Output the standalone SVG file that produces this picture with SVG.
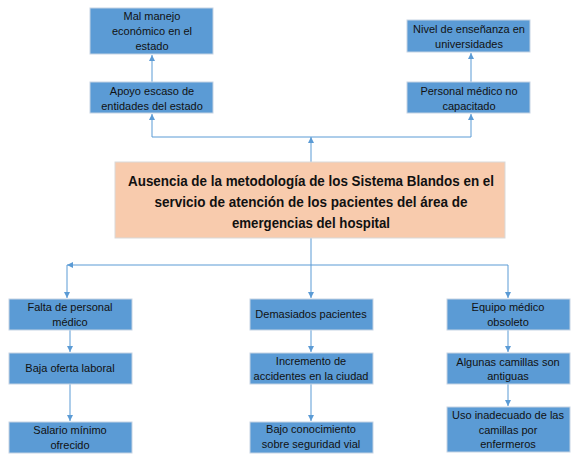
<svg xmlns="http://www.w3.org/2000/svg" width="587" height="463" viewBox="0 0 587 463">
<style>
.b{fill:#5B9BD5;stroke:#C5D3E3;stroke-width:1}
.c{fill:#F8CBAD;stroke:#D9D9D9;stroke-width:1}
.t{font-family:"Liberation Sans",Arial,sans-serif;font-size:11px;fill:#111;text-anchor:middle}
.m{font-family:"Liberation Sans",Arial,sans-serif;font-size:15px;font-weight:bold;fill:#111;text-anchor:middle}
.l{fill:none;stroke:#5B9BD5;stroke-width:1}
</style>
<defs>
<marker id="a" viewBox="0 0 6 6" refX="6" refY="3" markerWidth="6" markerHeight="6" orient="auto" markerUnits="userSpaceOnUse">
<path d="M0,0 L6,3 L0,6 Z" fill="#5B9BD5"/>
</marker>
</defs>
<g id="connectors">
<path class="l" d="M311,162 V137" marker-end="url(#a)"/>
<path class="l" d="M152,137 H471"/>
<path class="l" d="M152,137 V114" marker-end="url(#a)"/>
<path class="l" d="M471,137 V114" marker-end="url(#a)"/>
<path class="l" d="M152,82 V55" marker-end="url(#a)"/>
<path class="l" d="M471,82 V53" marker-end="url(#a)"/>
<path class="l" d="M311,238 V298" marker-end="url(#a)"/>
<path class="l" d="M508,265 H67" marker-end="url(#a)"/>
<path class="l" d="M67,265 V298" marker-end="url(#a)"/>
<path class="l" d="M508,265 V298" marker-end="url(#a)"/>
<path class="l" d="M70,330 V352" marker-end="url(#a)"/>
<path class="l" d="M70,384 V421" marker-end="url(#a)"/>
<path class="l" d="M311,330 V352" marker-end="url(#a)"/>
<path class="l" d="M311,384 V421" marker-end="url(#a)"/>
<path class="l" d="M508,330 V352" marker-end="url(#a)"/>
<path class="l" d="M508,384 V406" marker-end="url(#a)"/>
</g>
<g id="n1"><rect class="b" x="90" y="8" width="123" height="46"/>
<text class="t" x="152" y="20">Mal manejo</text><text class="t" x="152" y="35">económico en el</text><text class="t" x="152" y="50">estado</text></g>
<g id="n2"><rect class="b" x="90" y="82" width="123" height="31"/>
<text class="t" x="152" y="95">Apoyo escaso de</text><text class="t" x="152" y="110">entidades del estado</text></g>
<g id="n3"><rect class="b" x="407" y="20" width="123" height="32"/>
<text class="t" x="469" y="33">Nivel de enseñanza en</text><text class="t" x="469" y="48">universidades</text></g>
<g id="n4"><rect class="b" x="407" y="82" width="123" height="31"/>
<text class="t" x="469" y="95">Personal médico no</text><text class="t" x="469" y="110">capacitado</text></g>
<g id="center"><rect class="c" x="115" y="162" width="390" height="76"/>
<text class="m" x="311" y="186" textLength="366" lengthAdjust="spacingAndGlyphs">Ausencia de la metodología de los Sistema Blandos en el</text>
<text class="m" x="311" y="207" textLength="313" lengthAdjust="spacingAndGlyphs">servicio de atención de los pacientes del área de</text>
<text class="m" x="311" y="228" textLength="158" lengthAdjust="spacingAndGlyphs">emergencias del hospital</text></g>
<g id="n5"><rect class="b" x="9" y="299" width="123" height="31"/>
<text class="t" x="70" y="311">Falta de personal</text><text class="t" x="70" y="326">médico</text></g>
<g id="n6"><rect class="b" x="9" y="353" width="123" height="31"/>
<text class="t" x="70" y="372">Baja oferta laboral</text></g>
<g id="n7"><rect class="b" x="9" y="422" width="123" height="31"/>
<text class="t" x="70" y="434">Salario mínimo</text><text class="t" x="70" y="449">ofrecido</text></g>
<g id="n8"><rect class="b" x="250" y="299" width="123" height="31"/>
<text class="t" x="311" y="318">Demasiados pacientes</text></g>
<g id="n9"><rect class="b" x="250" y="353" width="123" height="31"/>
<text class="t" x="311" y="365">Incremento de</text><text class="t" x="311" y="380">accidentes en la ciudad</text></g>
<g id="n10"><rect class="b" x="250" y="422" width="123" height="31"/>
<text class="t" x="311" y="433">Bajo conocimiento</text><text class="t" x="311" y="448">sobre seguridad vial</text></g>
<g id="n11"><rect class="b" x="447" y="299" width="123" height="31"/>
<text class="t" x="508" y="311">Equipo médico</text><text class="t" x="508" y="326">obsoleto</text></g>
<g id="n12"><rect class="b" x="447" y="353" width="123" height="31"/>
<text class="t" x="508" y="366">Algunas camillas son</text><text class="t" x="508" y="380">antiguas</text></g>
<g id="n13"><rect class="b" x="447" y="407" width="123" height="45"/>
<text class="t" x="508" y="419">Uso inadecuado de las</text><text class="t" x="508" y="434">camillas por</text><text class="t" x="508" y="448">enfermeros</text></g>
</svg>
